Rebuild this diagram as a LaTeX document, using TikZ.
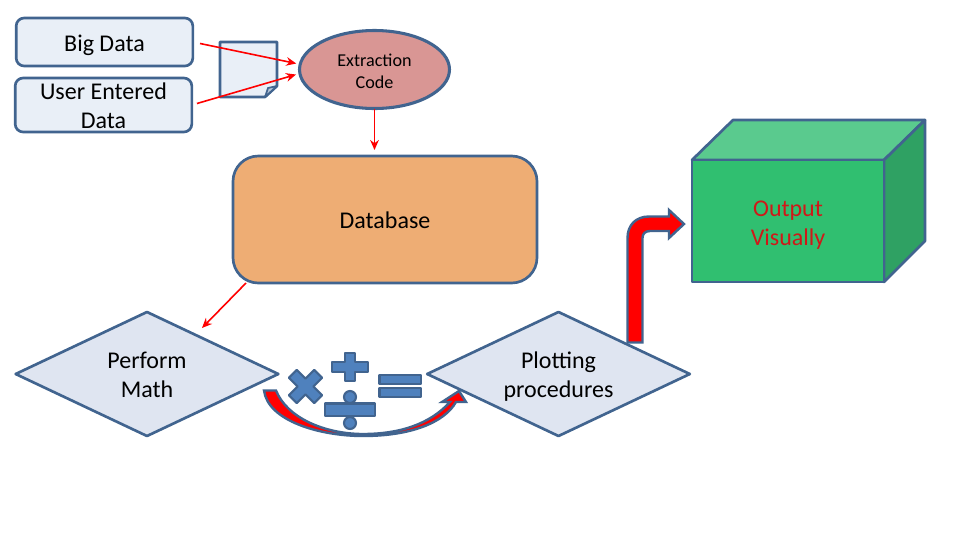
\documentclass[tikz,border=0pt]{standalone}
\usepackage{fontspec}
\setmainfont{Carlito}
\usetikzlibrary{shapes.geometric,arrows.meta}
\definecolor{edge}{HTML}{41648F}
\definecolor{lightbox}{HTML}{E9EFF7}
\definecolor{lightdiamond}{HTML}{DFE5F1}
\definecolor{rosefill}{HTML}{D99694}
\definecolor{dbfill}{HTML}{EEAD74}
\definecolor{frontgreen}{HTML}{30BF70}
\definecolor{topgreen}{HTML}{5ACA8E}
\definecolor{sidegreen}{HTML}{2FA163}
\definecolor{mathblue}{HTML}{4F81BD}
\definecolor{hotred}{HTML}{FF0000}
\definecolor{outred}{HTML}{D01818}
\tikzset{
  lbltext/.style={align=center,text=black,inner sep=0pt,yshift=-2.2pt,font=\fontsize{18}{21.75}\selectfont},
  lbl/.style={label={[lbltext]center:#1}},
  lblup/.style={label={[lbltext,yshift=1.6pt]center:#1}},
  pxbox/.style={draw=edge,line width=2pt,outer sep=0pt,inner sep=0pt,line join=round},
  databox/.style={pxbox,rectangle,rounded corners=6pt,fill=lightbox,minimum width=132.5pt},
  decision/.style={pxbox,diamond,fill=lightdiamond,minimum width=197pt,minimum height=93pt},
  thinred/.style={draw=hotred,line width=1.2pt,-{Stealth[length=7.5pt,width=6.5pt]}},
  solidshape/.style={draw=edge,line width=2pt,line join=round},
  mathsign/.style={draw=edge,line width=1.6pt,fill=mathblue,line join=round},
  boldarrow/.style={draw=edge,line width=1.8pt,fill=hotred,line join=miter}
}
\begin{document}
\begin{tikzpicture}[x=0.75pt,y=-0.75pt]
\useasboundingbox (0,0) rectangle (960,540);
% input boxes
\node[databox,minimum height=36pt,lbl={Big Data}] (big) at (104.5,42) {};
\node[databox,minimum height=40.5pt,lblup={User Entered\\Data}] (user) at (103.5,105) {};
% document
\path[solidshape,fill=lightbox] (220,42) -- (277,42) -- (277,86) -- (265,97) -- (220,97) -- cycle;
\path[solidshape,fill=lightbox!70!edge,line width=1.3pt] (277,86) -- (268,88) -- (265,97) -- cycle;
% extraction
\node[pxbox,ellipse,line width=2.3pt,fill=rosefill,minimum width=112.5pt,minimum height=58.5pt,
  label={[lbltext,font=\fontsize{13.6}{16.5}\selectfont,yshift=1pt]center:Extraction\\Code}] (ext) at (374.5,69.5) {};
% database
\node[pxbox,rectangle,rounded corners=19pt,fill=dbfill,minimum width=228pt,minimum height=95.25pt,lblup={Database}] (db) at (385,219.5) {};
% decisions
\node[decision,lblup={Perform\\Math}] (pm) at (147,374) {};
\node[decision,lbl={Plotting\\procedures}] (plot) at (558.5,374) {};
% output box
\path[solidshape,fill=topgreen] (692,160) -- (733,120) -- (925,120) -- (884,160) -- cycle;
\path[solidshape,fill=sidegreen] (884,160) -- (925,120) -- (925,241) -- (884,282) -- cycle;
\node[pxbox,rectangle,fill=frontgreen,minimum width=144pt,minimum height=91.5pt,
  label={[lbltext,text=outred,yshift=-0.8pt]center:Output\\Visually}] (out) at (788,221) {};
% connectors
\coordinate (dbout) at (246,283);
\coordinate (pmin) at (202,328);
\coordinate (dbin) at (374.5,150);
\draw[thinred,shorten <=5.5pt,shorten >=3pt] (big.east) -- (ext.176);
\draw[thinred,shorten <=4pt,shorten >=3pt] (user.east) -- (ext.183);
\draw[thinred] (ext.south) -- (dbin);
\draw[thinred] (dbout) -- (pmin);
% bent arrow
\path[boldarrow] (627.5,342.5) -- (627.5,238) .. controls (627.5,225) and (636,216.5) .. (649,216.5)
  -- (669,216.5) -- (669,210) -- (684,224) -- (669,238) -- (669,231) -- (650,231)
  .. controls (645,231) and (642.5,234) .. (642.5,238) -- (642.5,342.5) -- cycle;
% curved arrow
\path[boldarrow] (264,390.5) .. controls (268,421) and (320,436) .. (363,436)
  .. controls (410,436) and (444,423) .. (456,402) -- (466,402) -- (459,391) -- (442,402) -- (450,402)
  .. controls (430,424) and (400,434) .. (363,434)
  .. controls (325,434) and (287,418) .. (276,390.5) -- cycle;
% math signs
\path[mathsign] (350-18,367-5) -- (350-5,367-5) -- (350-5,353) -- (350+5,353) -- (350+5,367-5) -- (350+18,367-5)
  -- (350+18,367+5) -- (350+5,367+5) -- (350+5,381) -- (350-5,381) -- (350-5,367+5) -- (350-18,367+5) -- cycle;
\begin{scope}[shift={(305.5,386.5)},rotate=45]
\path[mathsign] (-18,-5.5) -- (-5.5,-5.5) -- (-5.5,-18) -- (5.5,-18) -- (5.5,-5.5) -- (18,-5.5)
  -- (18,5.5) -- (5.5,5.5) -- (5.5,18) -- (-5.5,18) -- (-5.5,5.5) -- (-18,5.5) -- cycle;
\end{scope}
\path[mathsign] (325,403.5) rectangle (375,416);
\path[mathsign] (350,397) circle[radius=6];
\path[mathsign] (350,423) circle[radius=6];
\path[mathsign] (379.5,375) rectangle (421,384);
\path[mathsign] (379.5,388) rectangle (421,397);
\end{tikzpicture}
\end{document}
